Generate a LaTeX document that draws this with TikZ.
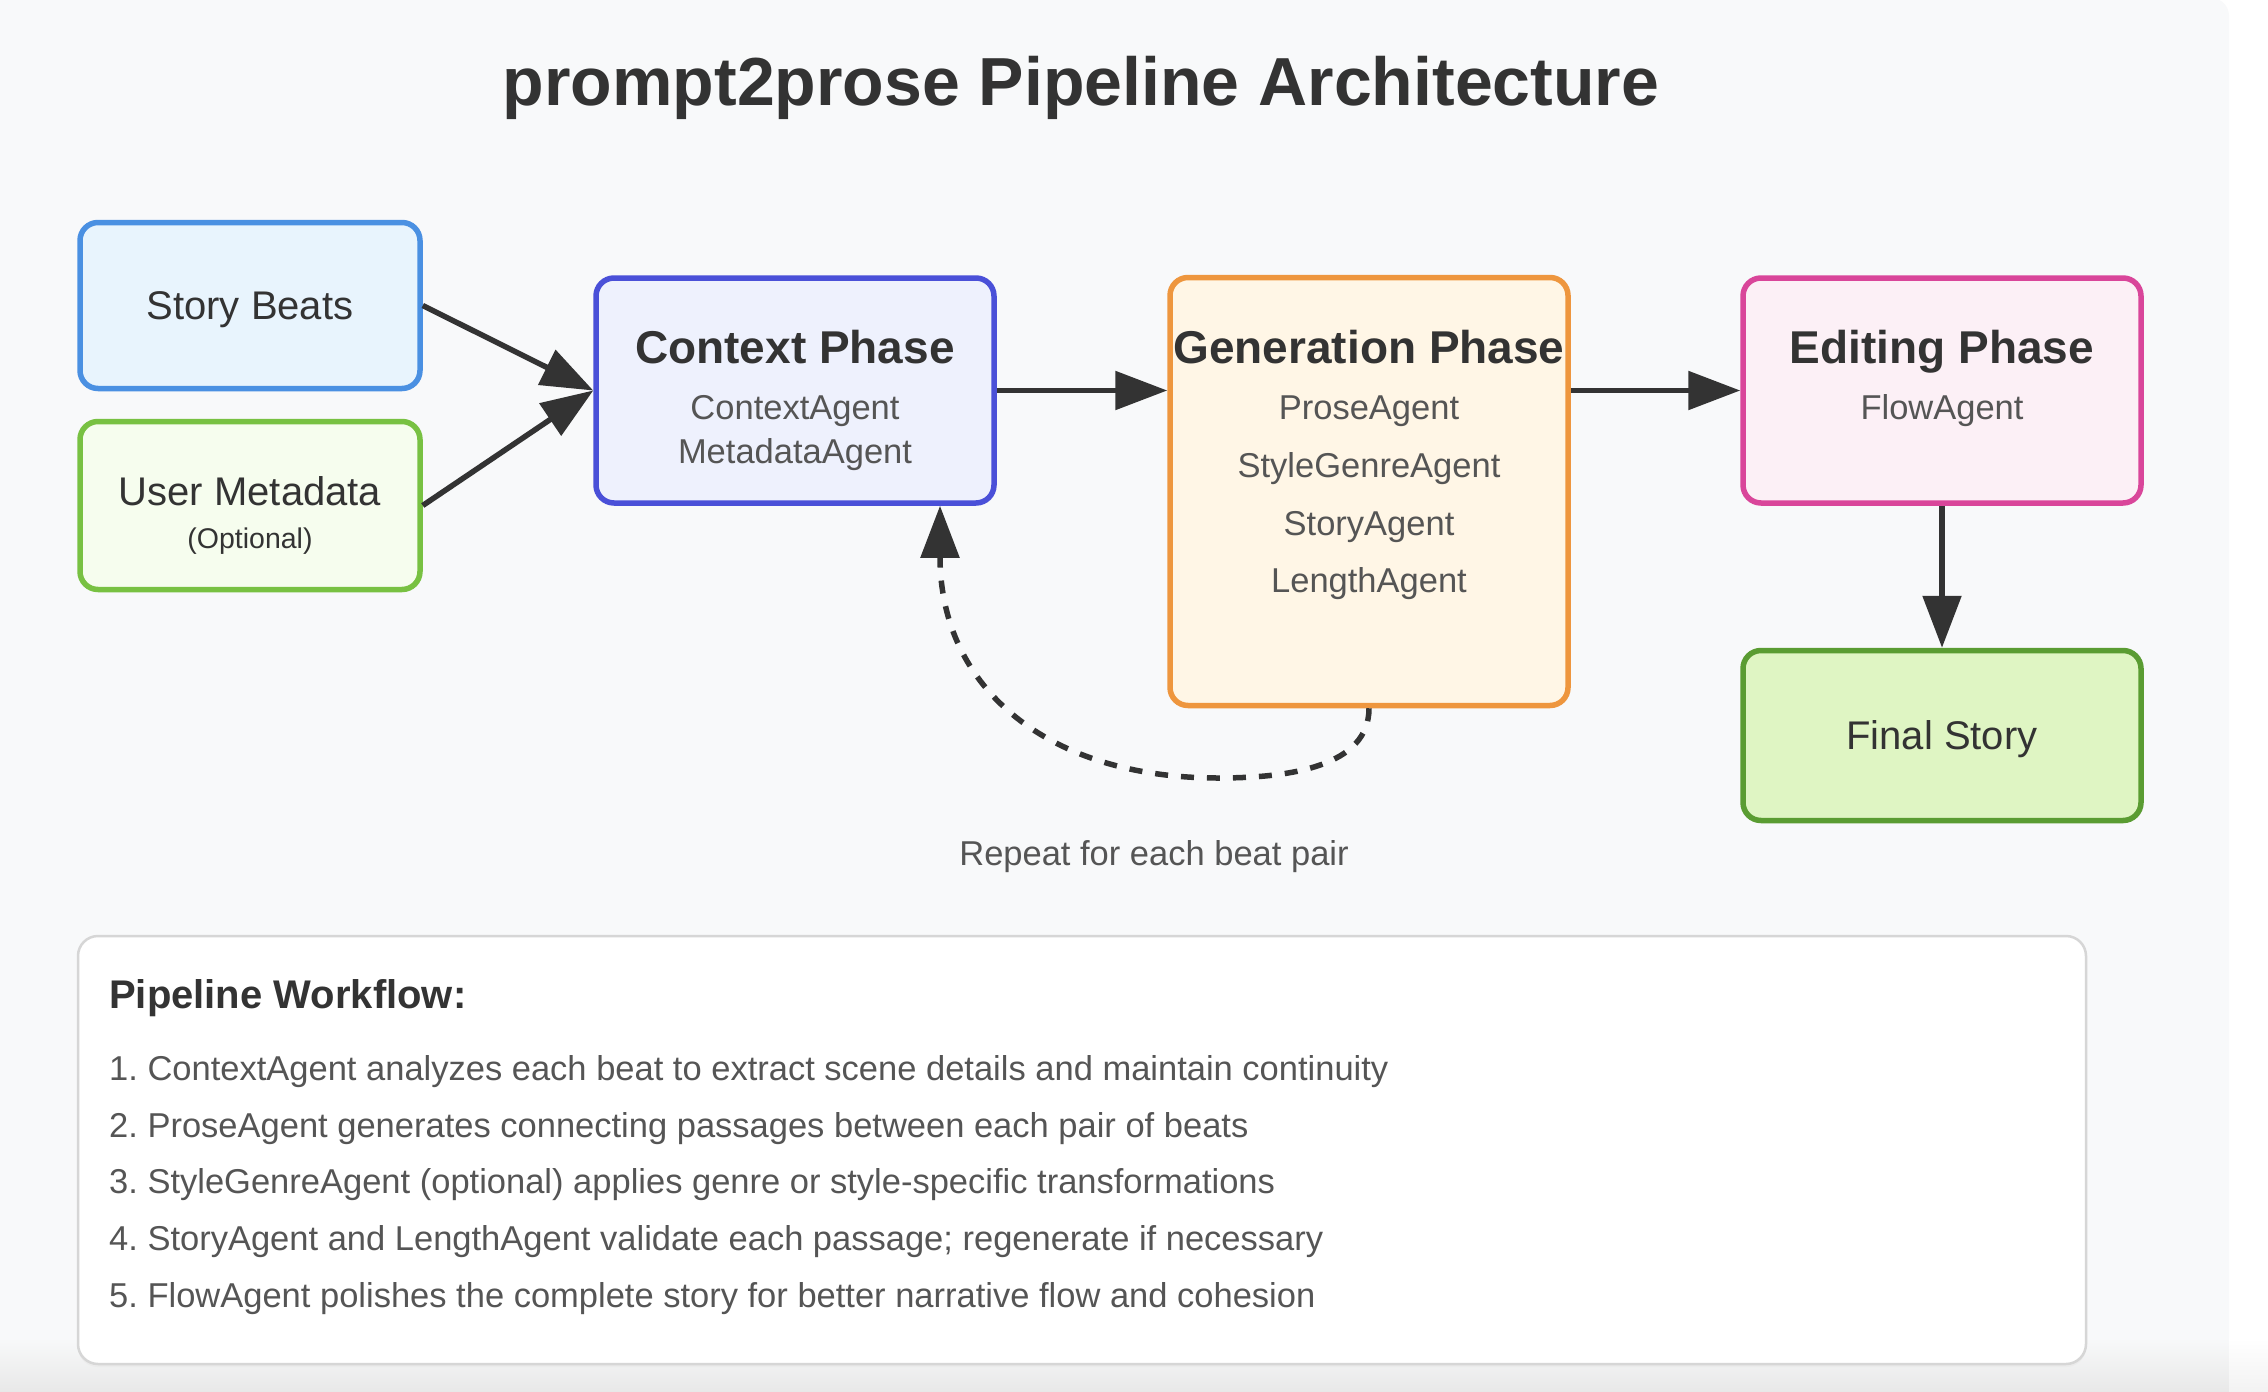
\documentclass[tikz,border=0pt]{standalone}
\usepackage{fontspec}
\setmainfont{Liberation Sans}
\usetikzlibrary{arrows.meta}
\frenchspacing
\definecolor{cardbg}{HTML}{F8F9FA}
\definecolor{txt}{HTML}{333333}
\definecolor{subtxt}{HTML}{555555}
\definecolor{sbfill}{HTML}{E8F4FD}\definecolor{sbdraw}{HTML}{4A90E2}
\definecolor{umfill}{HTML}{F6FDEE}\definecolor{umdraw}{HTML}{78C142}
\definecolor{cpfill}{HTML}{EEF1FD}\definecolor{cpdraw}{HTML}{4A50D8}
\definecolor{gpfill}{HTML}{FFF6E6}\definecolor{gpdraw}{HTML}{EE963E}
\definecolor{epfill}{HTML}{FCF0F6}\definecolor{epdraw}{HTML}{D9469A}
\definecolor{fsfill}{HTML}{DFF5C3}\definecolor{fsdraw}{HTML}{5A9C32}
\definecolor{wfdraw}{HTML}{D6D6D6}
\tikzset{
  box/.style={draw, rounded corners=18pt, line width=5.5pt, inner sep=0pt, anchor=center},
  head/.style={anchor=base, text=txt, inner sep=0pt, font=\fontsize{46}{55}\selectfont\bfseries},
  lbl/.style={anchor=base, text=txt, inner sep=0pt, font=\fontsize{40}{48}\selectfont},
  sub/.style={anchor=base, text=subtxt, inner sep=0pt, font=\fontsize{34.5}{41}\selectfont},
  conn/.style={draw=txt, line width=5.5pt, -{Triangle[length=52pt,width=38pt]}},
  loopconn/.style={draw=txt, line width=5.5pt, dash pattern=on 13pt off 13pt, -{Triangle[length=52pt,width=38pt]}},
  item/.style={anchor=base west, text=subtxt, inner sep=0pt, font=\fontsize{34.5}{41}\selectfont},
}
\begin{document}
\begin{tikzpicture}[x=1pt,y=-1pt]
\useasboundingbox (0,0) rectangle (2268,1392);
% background
\fill[white] (0,0) rectangle (2268,1392);
\fill[cardbg, rounded corners=18pt] (-40,-2) rectangle (2229,1460);
\shade[top color=cardbg, bottom color=black!9] (0,1338) rectangle (2229,1392);
\shade[top color=white, bottom color=black!5] (2229,1338) rectangle (2268,1392);

% title
\node[anchor=base, text=txt, inner sep=0pt, font=\fontsize{68}{80}\selectfont\bfseries] (title) at (1081,105) {prompt2prose Pipeline Architecture};

% boxes
\node[box, fill=sbfill, draw=sbdraw, minimum width=340pt, minimum height=166pt] (story) at (250,305.5) {};
\node[box, fill=umfill, draw=umdraw, minimum width=340pt, minimum height=168pt] (meta) at (250,505.5) {};
\node[box, fill=cpfill, draw=cpdraw, minimum width=398pt, minimum height=225pt] (ctx) at (795,390.5) {};
\node[box, fill=gpfill, draw=gpdraw, minimum width=398pt, minimum height=428pt] (gen) at (1369,491.5) {};
\node[box, fill=epfill, draw=epdraw, minimum width=398pt, minimum height=225pt] (edit) at (1942,390.5) {};
\node[box, fill=fsfill, draw=fsdraw, minimum width=398pt, minimum height=170pt] (final) at (1942,735.5) {};

% labels
\node[lbl] (storylbl) at (250,319) {Story Beats};
\node[lbl] (metalbl) at (250,505) {User Metadata};
\node[anchor=base, text=txt, inner sep=0pt, font=\fontsize{28.5}{34}\selectfont] (optlbl) at (250,548) {(Optional)};
\node[head] (ctxhead) at (795,363) {Context Phase};
\node[sub] (ctxa) at (795,419) {ContextAgent};
\node[sub] (ctxb) at (795,463) {MetadataAgent};
\node[head] (genhead) at (1369,363) {Generation Phase};
\node[sub] (gena) at (1369,419) {ProseAgent};
\node[sub] (genb) at (1369,477) {StyleGenreAgent};
\node[sub] (genc) at (1369,535) {StoryAgent};
\node[sub] (gend) at (1369,592) {LengthAgent};
\node[head] (edithead) at (1942,363) {Editing Phase};
\node[sub] (edita) at (1942,419) {FlowAgent};
\node[lbl] (finallbl) at (1942,749) {Final Story};
\node[sub] (repeat) at (1154,865) {Repeat for each beat pair};

% connectors
\draw[conn] (story.east) -- (ctx.west);
\draw[conn] (meta.east) -- (ctx.west);
\draw[conn] (ctx.east) -- (ctx.east -| gen.west);
\draw[conn] (gen.east |- edit.west) -- (edit.west);
\draw[conn] (edit.south) -- (final.north);
\coordinate (loopend) at ([xshift=145pt]ctx.south);
\draw[loopconn] (gen.south) .. controls +(0,58) and (1290,778) .. (1218,778)
  .. controls (1050,778) and (940,690) .. (loopend);

% workflow panel
\fill[black!8, rounded corners=20pt] (78,939) rectangle (2086,1367);
\node[box, fill=white, draw=wfdraw, line width=2.5pt, rounded corners=20pt, minimum width=2008pt, minimum height=428pt] (wf) at (1082,1150) {};
\node[anchor=base west, text=txt, inner sep=0pt, font=\fontsize{40}{48}\selectfont\bfseries] (wfhead) at (109,1008) {Pipeline Workflow:};
\node[item] (w1) at (109,1080) {1. ContextAgent analyzes each beat to extract scene details and maintain continuity};
\node[item] (w2) at (109,1137) {2. ProseAgent generates connecting passages between each pair of beats};
\node[item] (w3) at (109,1193) {3. StyleGenreAgent (optional) applies genre or style-specific transformations};
\node[item] (w4) at (109,1250) {4. StoryAgent and LengthAgent validate each passage; regenerate if necessary};
\node[item] (w5) at (109,1307) {5. FlowAgent polishes the complete story for better narrative flow and cohesion};
\end{tikzpicture}
\end{document}
